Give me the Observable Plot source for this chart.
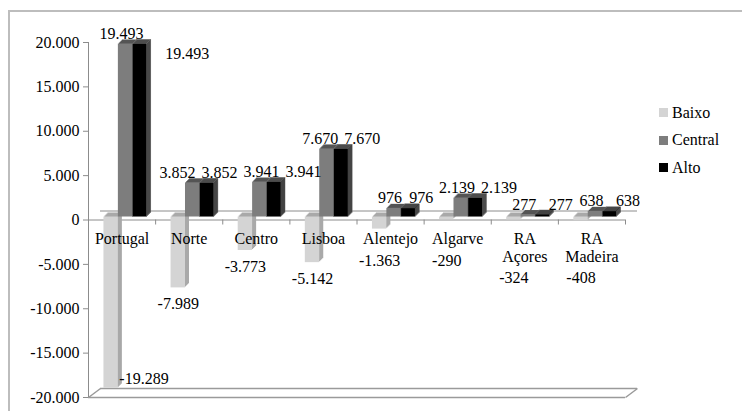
<!DOCTYPE html>
<html>
<head>
<meta charset="utf-8">
<script src="https://cdn.jsdelivr.net/npm/d3@7"></script>
<script src="https://cdn.jsdelivr.net/npm/@observablehq/plot@0.6"></script>
<style>
  html, body { margin: 0; padding: 0; background: #fff; }
  #wrap { position: relative; width: 742px; height: 411px; overflow: hidden; font-family: "Liberation Serif", "DejaVu Serif", serif; }
  #frame { position: absolute; left: 8px; top: 10px; width: 800px; height: 500px; border-top: 2px solid #bdbdbd; border-left: 2px solid #bdbdbd; }
  #chart { position: absolute; left: 0; top: 0; }
  #legend { position: absolute; left: 659px; top: 104px; font-size: 16px; color: #000; }
  #legend .item { display: flex; align-items: center; height: 17px; margin-bottom: 10.5px; }
  #legend .sw { width: 9px; height: 9px; margin-right: 4px; }
</style>
</head>
<body>
<div id="wrap">
  <div id="frame"></div>
  <div id="chart"></div>
  <div id="legend"></div>
</div>
<script>
// ---- data ----
const categories = ["Portugal", "Norte", "Centro", "Lisboa", "Alentejo", "Algarve", "RA\nAçores", "RA\nMadeira"];
const baixo   = [-19289, -7989, -3773, -5142, -1363, -290, -324, -408];
const central = [19493, 3852, 3941, 7670, 976, 2139, 277, 638];
const alto    = [19493, 3852, 3941, 7670, 976, 2139, 277, 638];
const seriesNames = ["Baixo", "Central", "Alto"];
const yTicks = [-20000, -15000, -10000, -5000, 0, 5000, 10000, 15000, 20000];

// ---- styles ----
const FONT = "'Liberation Serif', 'DejaVu Serif', serif";
const colors = {
  Baixo:   {front: "#d4d4d4", side: "#a9a9a9", stroke: "none"},
  Central: {front: "#7d7d7d", side: "#555555", stroke: "none"},
  Alto:    {front: "#000000", side: "#1a1a1a", stroke: "#6e6e6e"}
};
const slots = {Baixo: [0.23, 0.445], Central: [0.445, 0.66], Alto: [0.66, 0.875]};

const W = 742, H = 411, mL = 88, mR = 117, mT = 42, mB = 14;
const yDomain = [-20000, 20000];
const yPx = d3.scaleLinear(yDomain, [H - mB, mT]);   // helper mirroring Plot's y scale
const xPx = d3.scaleLinear([0, 8], [mL, W - mR]);    // helper mirroring Plot's x scale

const loc = d3.formatLocale({decimal: ",", thousands: ".", grouping: [3], currency: ["", ""], minus: "-"});
const fmt = loc.format(",");

const rows = [];
categories.forEach((c, i) => {
  [["Baixo", baixo[i]], ["Central", central[i]], ["Alto", alto[i]]].forEach(([s, v]) => {
    rows.push({cat: c, i, s, v, x1: i + slots[s][0], x2: i + slots[s][1]});
  });
});

// depth of the 3-D effect
const depthDx = 12, depthDy = -9;
const barLayers = [4, 3, 2, 1];

const marks = [];
// back wall / floor lines
marks.push(Plot.ruleY([0], {x1: 0, x2: 8, dx: depthDx, dy: depthDy, stroke: "#8c8c8c"}));
marks.push(Plot.ruleY([yDomain[0]], {x1: 0, x2: 8, dx: depthDx, dy: depthDy, stroke: "#9a9a9a", strokeWidth: 1.5}));
marks.push(Plot.ruleY([yDomain[0]], {x1: 0, x2: 8, stroke: "#9a9a9a", strokeWidth: 1.5}));
const ddx = xPx.invert(mL + depthDx);
const ddy = yPx.invert(yPx(yDomain[0]) + depthDy) - yDomain[0];
marks.push(Plot.link([0, 8], {x1: d => d, y1: yDomain[0], x2: d => d + ddx, y2: yDomain[0] + ddy, stroke: "#9a9a9a", strokeWidth: 1.5}));
// y axis line
marks.push(Plot.ruleX([0], {y1: yDomain[0], y2: yDomain[1], stroke: "#8c8c8c"}));
// front category axis
marks.push(Plot.ruleY([0], {x1: 0, x2: 8, stroke: "#8c8c8c"}));
marks.push(Plot.ruleX([1, 2, 3, 4, 5, 6, 7, 8], {x: d => d, y1: 0, y2: yPx.invert(yPx(0) + 5), stroke: "#8c8c8c"}));

// bars
for (const s of seriesNames) {
  const data = rows.filter(r => r.s === s);
  const stroke = colors[s].stroke === "none" ? null : colors[s].stroke;
  for (const k of barLayers) {
    marks.push(Plot.rect(data, {x1: "x1", x2: "x2", y1: 0, y2: "v", dx: k, dy: -k - 3, fill: colors[s].side, stroke, strokeWidth: 0.6}));
  }
  marks.push(Plot.rect(data, {x1: "x1", x2: "x2", y1: 0, y2: "v", dy: -3, fill: colors[s].front, stroke, strokeWidth: 0.6}));
}

// y axis ticks & labels
marks.push(Plot.axisY({ticks: yTicks, tickFormat: fmt, tickSize: 5, tickPadding: 4, fontSize: 16, stroke: "#8c8c8c", fill: "#000", label: null}));

// category labels
marks.push(Plot.text(categories.map((c, i) => ({c, i})), {
  x: d => d.i + 0.5, y: 0, text: "c", dy: 12, lineAnchor: "top", lineHeight: 1.08, fontSize: 16, fill: "#000"
}));

// ---- value labels for Central & Alto, with simple collision avoidance ----
const ctx = document.createElement("canvas").getContext("2d");
ctx.font = "16px " + FONT;
const topLimit = yPx.invert(66);
const upLabels = rows.filter(r => r.s !== "Baixo").map(r => {
  const moved = r.s === "Alto" && r.v > topLimit;
  const t = fmt(r.v);
  const w = ctx.measureText(t).width;
  const yv = moved ? topLimit : r.v;
  let cx;
  if (moved) cx = xPx(r.x2) + 18 + w / 2;
  else cx = xPx((r.x1 + r.x2) / 2) + (r.s === "Central" ? -4 : 18);
  return {t, w, yv, ypx: yPx(yv), cx};
});
for (let it = 0; it < 100; it++) {
  upLabels.sort((a, b) => a.cx - b.cx);
  let moved = false;
  for (let a = 0; a < upLabels.length; a++) {
    for (let b = a + 1; b < upLabels.length; b++) {
      const A = upLabels[a], B = upLabels[b];
      if (Math.abs(A.ypx - B.ypx) > 14) continue;
      const need = (A.w + B.w) / 2 + 6 - (B.cx - A.cx);
      if (need > 0.1) { A.cx -= need / 2; B.cx += need / 2; moved = true; }
    }
  }
  if (!moved) break;
}
marks.push(Plot.text(upLabels, {
  x: d => xPx.invert(d.cx), y: "yv", text: "t", dy: -8, lineAnchor: "bottom", fontSize: 16, fill: "#000"
}));

// Baixo labels: below bar end, clear of category labels; beside bar when no room
const fitsBelow = r => yPx(r.v) + 22 < H - mB;
marks.push(Plot.text(rows.filter(r => r.s === "Baixo" && fitsBelow(r)), {
  x: r => (r.x1 + r.x2) / 2,
  y: r => Math.min(yPx.invert(yPx(r.v) + 7), yPx.invert(r.cat.includes("\n") ? 271 : 254)),
  text: r => fmt(r.v), lineAnchor: "top", fontSize: 16, fill: "#000"
}));
marks.push(Plot.text(rows.filter(r => r.s === "Baixo" && !fitsBelow(r)), {
  x: "x2", y: "v", text: r => fmt(r.v), textAnchor: "start", dx: 1, dy: -7, lineAnchor: "bottom", fontSize: 16, fill: "#000"
}));

const chart = Plot.plot({
  width: W, height: H,
  marginLeft: mL, marginRight: mR, marginTop: mT, marginBottom: mB,
  style: {fontFamily: FONT, fontSize: "16px", color: "#000", background: "transparent", overflow: "visible"},
  x: {type: "linear", domain: [0, 8], axis: null},
  y: {domain: yDomain, axis: null, label: null},
  marks
});
document.getElementById("chart").appendChild(chart);

// legend
const legend = document.getElementById("legend");
for (const s of seriesNames) {
  const it = document.createElement("div");
  it.className = "item";
  const sw = document.createElement("span");
  sw.className = "sw";
  sw.style.background = colors[s].front;
  it.appendChild(sw);
  it.appendChild(document.createTextNode(s));
  legend.appendChild(it);
}
</script>
</body>
</html>
